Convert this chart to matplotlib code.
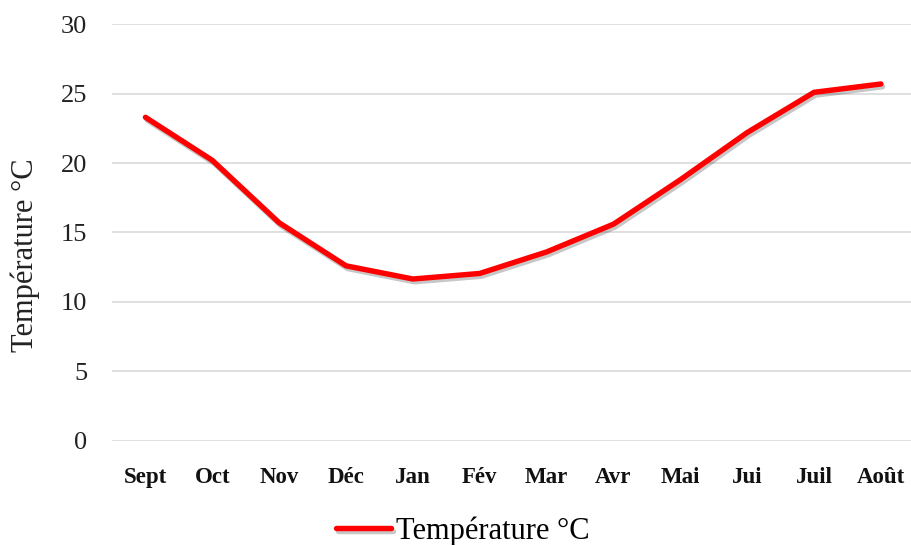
import matplotlib
matplotlib.use("Agg")
import matplotlib.pyplot as plt
import matplotlib.patheffects as pe

months = ["Sept", "Oct", "Nov", "Déc", "Jan", "Fév", "Mar", "Avr", "Mai", "Jui", "Juil", "Août"]
temps = [23.3, 20.2, 15.7, 12.6, 11.65, 12.05, 13.6, 15.6, 18.8, 22.2, 25.1, 25.7]
yticks = [0, 5, 10, 15, 20, 25, 30]
series_name = "Température °C"

plt.rcParams['font.family'] = ['Liberation Serif', 'DejaVu Serif']

fig = plt.figure(figsize=(9.11, 5.45), dpi=100)
ax = fig.add_axes([112 / 911, (545 - 440.7) / 545, 799 / 911, (440.7 - 24.3) / 545])

x = list(range(len(months)))
line, = ax.plot(x, temps, color='#ff0000', lw=3.9, solid_joinstyle='round',
                solid_capstyle='round', label=series_name,
                path_effects=[pe.SimpleLineShadow(offset=(1.2, -2.0), shadow_color='#000000', alpha=0.22),
                              pe.Normal()])

ax.set_ylim(0, 30)
ax.set_xlim(-0.5, 11.45)
ax.set_yticks(yticks)
ax.set_yticklabels([str(v) for v in yticks], fontsize=19, color='#222222')
ax.set_xticks(x)
ax.set_xticklabels(months, fontsize=16.5, fontweight='bold', color='#111111')
ax.tick_params(axis='both', length=0)
ax.tick_params(axis='y', pad=18)
ax.tick_params(axis='x', pad=19)
ax.grid(axis='y', color='#d9d9d9', lw=1.2)
ax.set_axisbelow(True)
for s in ax.spines.values():
    s.set_visible(False)

ax.set_ylabel(series_name, fontsize=22, color='#222222')
ax.yaxis.set_label_coords((40 - 112) / 799, (440.7 - 255) / 416.4)

leg = fig.legend(handles=[line], loc='center', bbox_to_anchor=(463 / 911, (545 - 531) / 545),
                 frameon=False, fontsize=22, handlelength=1.8, handletextpad=0.15)

fig.savefig("out.png", dpi=100)
